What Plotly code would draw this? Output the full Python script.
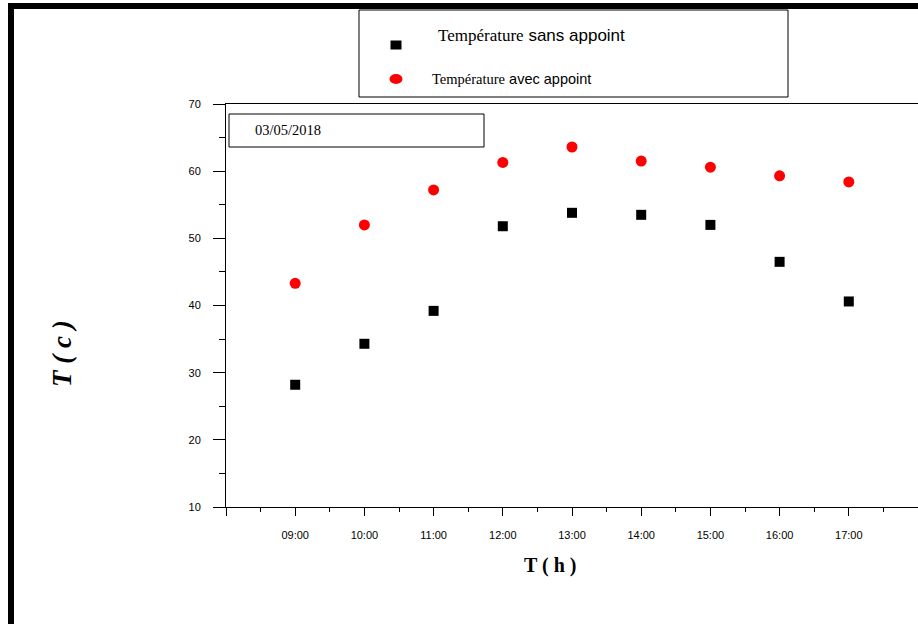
import plotly.graph_objects as go

# Hourly readings, 03/05/2018
hours = [9, 10, 11, 12, 13, 14, 15, 16, 17]
hour_labels = ["09:00", "10:00", "11:00", "12:00", "13:00", "14:00", "15:00", "16:00", "17:00"]
temp_sans_appoint = [28.2, 34.3, 39.2, 51.8, 53.8, 53.5, 52.0, 46.5, 40.6]
temp_avec_appoint = [43.3, 52.0, 57.2, 61.3, 63.6, 61.5, 60.6, 59.3, 58.4]

SERIF = "Liberation Serif"
SANS = "Liberation Sans"

W, H = 918, 624
L, R, T, B = 226, 0, 104, 117
PW, PH = W - L - R, H - T - B


def px(x):
    return (x - L) / PW


def py(y):
    return (H - B - y) / PH


fig = go.Figure()
fig.add_trace(go.Scatter(
    x=hours, y=temp_sans_appoint, mode="markers",
    marker=dict(symbol="square", size=10, color="black"),
    showlegend=False, cliponaxis=False,
))
fig.add_trace(go.Scatter(
    x=hours, y=temp_avec_appoint, mode="markers",
    marker=dict(symbol="circle", size=11, color="#ff0000"),
    showlegend=False, cliponaxis=False,
))

shapes = [
    # outer frame (top and left bands)
    dict(type="rect", xref="paper", yref="paper", x0=px(8), x1=px(918), y0=py(3), y1=py(9),
         fillcolor="black", line=dict(width=0)),
    dict(type="rect", xref="paper", yref="paper", x0=px(8), x1=px(14), y0=py(3), y1=py(624),
         fillcolor="black", line=dict(width=0)),
    # legend box
    dict(type="rect", xref="paper", yref="paper", x0=px(359), x1=px(788), y0=py(10), y1=py(97),
         line=dict(color="black", width=1), fillcolor="white"),
    dict(type="rect", xref="paper", yref="paper", x0=px(390.5), x1=px(401.5), y0=py(40.5), y1=py(49.5),
         fillcolor="black", line=dict(width=0)),
    dict(type="circle", xref="paper", yref="paper", x0=px(389.5), x1=px(402.5), y0=py(74), y1=py(84),
         fillcolor="#ff0000", line=dict(width=0)),
    # date box
    dict(type="rect", xref="paper", yref="paper", x0=px(229), x1=px(484), y0=py(114), y1=py(147),
         line=dict(color="black", width=1), fillcolor="white"),
]

annotations = [
    dict(xref="paper", yref="paper", x=px(436), y=py(36), xanchor="left", yanchor="middle",
         showarrow=False,
         text=f"<span style='font-family:{SERIF}'>Température</span> sans appoint",
         font=dict(family=SANS, size=17, color="black")),
    dict(xref="paper", yref="paper", x=px(430), y=py(79), xanchor="left", yanchor="middle",
         showarrow=False,
         text=f"<span style='font-family:{SERIF}'>Température</span> avec appoint",
         font=dict(family=SANS, size=14.5, color="black")),
    dict(xref="paper", yref="paper", x=px(253), y=py(130), xanchor="left", yanchor="middle",
         showarrow=False, text="03/05/2018",
         font=dict(family=SERIF, size=14.5, color="black")),
    dict(xref="paper", yref="paper", x=px(550), y=py(565), xanchor="center", yanchor="middle",
         showarrow=False, text="<b>T ( h )</b>",
         font=dict(family=SERIF, size=20, color="black")),
    dict(xref="paper", yref="paper", x=px(62), y=py(354), xanchor="center", yanchor="middle",
         showarrow=False, text="<b><i>T ( c )</i></b>", textangle=-90,
         font=dict(family=SERIF, size=27, color="black")),
]

fig.update_layout(
    width=W, height=H,
    margin=dict(l=L, r=R, t=T, b=B),
    paper_bgcolor="white", plot_bgcolor="white",
    shapes=shapes, annotations=annotations,
    xaxis=dict(
        range=[8, 18], showgrid=False, zeroline=False,
        tickmode="array", tickvals=[8] + hours + [18], ticktext=[""] + hour_labels + [""],
        ticks="outside", ticklen=8, tickwidth=1, tickcolor="black",
        showline=True, linecolor="black", linewidth=1, mirror=True,
        tickfont=dict(family=SANS, size=11, color="black"),
        ticklabelstandoff=10,
        minor=dict(tickmode="linear", tick0=8, dtick=0.5, ticks="outside", ticklen=4,
                   tickwidth=1, tickcolor="black"),
    ),
    yaxis=dict(
        range=[10, 70], showgrid=False, zeroline=False,
        tickmode="linear", tick0=10, dtick=10,
        ticks="outside", ticklen=12, tickwidth=1, tickcolor="black",
        showline=True, linecolor="black", linewidth=1,
        tickfont=dict(family=SANS, size=11, color="black"),
        ticklabelstandoff=10,
        minor=dict(tickmode="linear", tick0=10, dtick=5, ticks="outside", ticklen=6,
                   tickwidth=1, tickcolor="black"),
    ),
)

fig.write_html("out.html")
